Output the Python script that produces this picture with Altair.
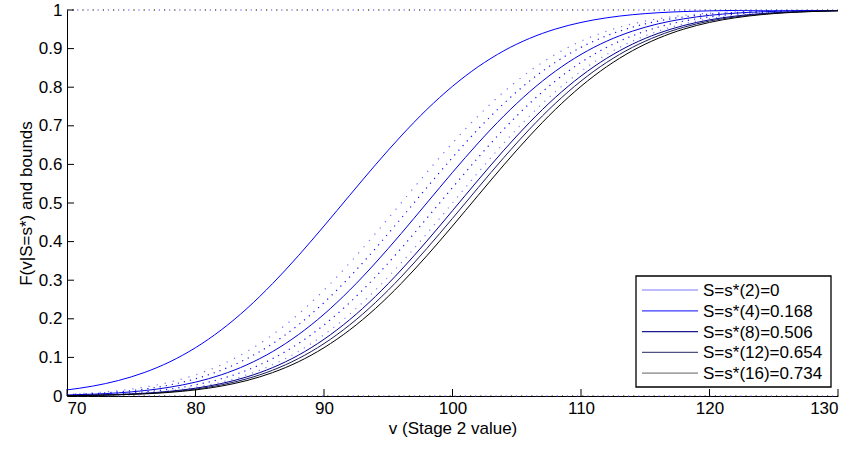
import altair as alt
import pandas as pd

# ---- data ----
v_grid = list(range(70, 131, 2))

labels = ["S=s*(2)=0", "S=s*(4)=0.168", "S=s*(8)=0.506", "S=s*(12)=0.654", "S=s*(16)=0.734"]

c1 = [0.0158, 0.0256, 0.0401, 0.0606, 0.0885, 0.1251, 0.1711, 0.2266, 0.2912, 0.3632, 0.4404,
      0.5199, 0.5987, 0.6736, 0.7422, 0.8023, 0.8531, 0.8944, 0.9265, 0.9505, 0.9678, 0.9798,
      0.9878, 0.9929, 0.9960, 0.9978, 0.9989, 0.9994, 0.9997, 0.9999, 0.9999]
c2 = [0.0026, 0.0047, 0.0082, 0.0139, 0.0228, 0.0359, 0.0548, 0.0808, 0.1151, 0.1587, 0.2119,
      0.2743, 0.3446, 0.4207, 0.5, 0.5793, 0.6554, 0.7257, 0.7881, 0.8413, 0.8849, 0.9192,
      0.9452, 0.9641, 0.9772, 0.9861, 0.9918, 0.9953, 0.9974, 0.9987, 0.9993]
c3 = [0.0011, 0.0022, 0.0040, 0.0071, 0.0122, 0.0202, 0.0322, 0.0495, 0.0735, 0.1056, 0.1469,
      0.1977, 0.2578, 0.3264, 0.4013, 0.4801, 0.5596, 0.6368, 0.7088, 0.7734, 0.8289, 0.8749,
      0.9115, 0.9394, 0.9599, 0.9744, 0.9842, 0.9906, 0.9946, 0.9970, 0.9984]
c4 = [0.0010, 0.0019, 0.0035, 0.0062, 0.0107, 0.0179, 0.0287, 0.0446, 0.0668, 0.0968, 0.1357,
      0.1841, 0.2420, 0.3085, 0.3821, 0.4602, 0.5398, 0.6179, 0.6915, 0.7580, 0.8159, 0.8643,
      0.9032, 0.9332, 0.9554, 0.9713, 0.9821, 0.9893, 0.9938, 0.9965, 0.9981]
c5 = [0.0008, 0.0016, 0.0030, 0.0054, 0.0094, 0.0158, 0.0256, 0.0401, 0.0606, 0.0885, 0.1251,
      0.1711, 0.2266, 0.2912, 0.3632, 0.4404, 0.5199, 0.5987, 0.6736, 0.7422, 0.8023, 0.8531,
      0.8944, 0.9265, 0.9505, 0.9678, 0.9798, 0.9878, 0.9929, 0.9960, 0.9978]

# dotted bounds
d_a = [0.0047, 0.0082, 0.0139, 0.0228, 0.0359, 0.0548, 0.0808, 0.1151, 0.1587, 0.2119, 0.2743,
       0.3446, 0.4207, 0.5, 0.5793, 0.6554, 0.7257, 0.7881, 0.8413, 0.8849, 0.9192, 0.9452,
       0.9641, 0.9772, 0.9861, 0.9918, 0.9953, 0.9974, 0.9987, 0.9993, 0.9997]
d_b = [0.0035, 0.0062, 0.0107, 0.0179, 0.0287, 0.0446, 0.0668, 0.0968, 0.1357, 0.1841, 0.2420,
       0.3085, 0.3821, 0.4602, 0.5398, 0.6179, 0.6915, 0.7580, 0.8159, 0.8643, 0.9032, 0.9332,
       0.9554, 0.9713, 0.9821, 0.9893, 0.9938, 0.9965, 0.9981, 0.9990, 0.9995]
d_c = [0.0019, 0.0035, 0.0062, 0.0107, 0.0179, 0.0287, 0.0446, 0.0668, 0.0968, 0.1357, 0.1841,
       0.2420, 0.3085, 0.3821, 0.4602, 0.5398, 0.6179, 0.6915, 0.7580, 0.8159, 0.8643, 0.9032,
       0.9332, 0.9554, 0.9713, 0.9821, 0.9893, 0.9938, 0.9965, 0.9981, 0.9990]
d_d = [0.0013, 0.0026, 0.0047, 0.0082, 0.0139, 0.0228, 0.0359, 0.0548, 0.0808, 0.1151, 0.1587,
       0.2119, 0.2743, 0.3446, 0.4207, 0.5, 0.5793, 0.6554, 0.7257, 0.7881, 0.8413, 0.8849,
       0.9192, 0.9452, 0.9641, 0.9772, 0.9861, 0.9918, 0.9953, 0.9974, 0.9987]

bound_v = [70, 130]
bound_hi = [1.0, 1.0]
bound_lo = [0.0, 0.0]

x_ticks = [70, 80, 90, 100, 110, 120, 130]
y_ticks = [0, 0.1, 0.2, 0.3, 0.4, 0.5, 0.6, 0.7, 0.8, 0.9, 1.0]

# ---- styles ----
FONT = "Liberation Sans"
FS = 17
W, H = 771, 386
solid_colors = ["#0000ff", "#0000d8", "#000090", "#1a1a60", "#000000"]
legend_colors = ["#7a7aff", "#3a3aff", "#1a1a90", "#505080", "#808080"]

x_scale = alt.Scale(domain=[70, 130], nice=False, zero=False)
y_scale = alt.Scale(domain=[0, 1], nice=False, zero=False)

x_axis = alt.Axis(values=x_ticks, ticks=False, grid=False, title="v (Stage 2 value)",
                  labelPadding=4, titlePadding=4, format="d", labelOverlap=False)
y_axis = alt.Axis(values=y_ticks, tickCount=11, ticks=False, grid=False,
                  title="F(v|S=s*) and bounds",
                  labelPadding=5, titlePadding=3, format=".1~f", labelOverlap=False)


def X():
    return alt.X("v:Q", scale=x_scale, axis=x_axis)


def Y():
    return alt.Y("F:Q", scale=y_scale, axis=y_axis)


layers = []

# dotted bounds
dotted_specs = [
    (d_a, "#7070ff", [1.2, 7]),
    (d_b, "#1010ff", [1.2, 5]),
    (d_c, "#1010ff", [1.2, 5]),
    (d_d, "#8080ff", [1.2, 6]),
]
for ser, col, dash in dotted_specs:
    df = pd.DataFrame({"v": v_grid, "F": ser})
    layers.append(
        alt.Chart(df).mark_line(color=col, strokeWidth=1.2, strokeDash=dash,
                                interpolate="monotone", clip=True).encode(x=X(), y=Y())
    )

for yy in (bound_hi, bound_lo):
    df = pd.DataFrame({"v": bound_v, "F": yy})
    layers.append(alt.Chart(df).mark_line(color="#4040ff", strokeWidth=1.2, strokeDash=[1.2, 9],
                                          clip=False).encode(x=X(), y=Y()))
    layers.append(alt.Chart(df).mark_line(color="#000000", strokeWidth=1.2, strokeDash=[1.2, 9],
                                          strokeDashOffset=5, clip=False).encode(x=X(), y=Y()))

# solid curves
for lab, ser, col in zip(labels, [c1, c2, c3, c4, c5], solid_colors):
    df = pd.DataFrame({"v": v_grid, "F": ser})
    layers.append(alt.Chart(df).mark_line(color=col, strokeWidth=1, interpolate="monotone",
                                          clip=True).encode(x=X(), y=Y()))

# inward ticks
layers.append(alt.Chart(pd.DataFrame({"v": x_ticks})).mark_rule(color="black", strokeWidth=1).encode(
    x=X(), y=alt.value(H), y2=alt.value(H - 7)))
layers.append(alt.Chart(pd.DataFrame({"F": y_ticks})).mark_rule(color="black", strokeWidth=1).encode(
    y=Y(), x=alt.value(0), x2=alt.value(7)))

# legend box (drawn by hand, MATLAB style)
LX0, LX1, LY0, LY1 = 569, 764, 266, 377
ROW0, ROWH = 280, 20.8
box_src = pd.DataFrame({"k": [0]})
layers.append(alt.Chart(box_src).mark_rect(fill="white", stroke="black", strokeWidth=1.3).encode(
    x=alt.value(LX0), x2=alt.value(LX1), y=alt.value(LY0), y2=alt.value(LY1)))
for i, (lab, col) in enumerate(zip(labels, legend_colors)):
    yy = ROW0 + i * ROWH
    layers.append(alt.Chart(box_src).mark_rule(color=col, strokeWidth=1.2).encode(
        x=alt.value(LX0 + 6), x2=alt.value(LX0 + 62), y=alt.value(yy)))
    layers.append(alt.Chart(box_src).mark_text(text=lab, align="left", baseline="middle",
                                               font=FONT, fontSize=FS, color="black").encode(
        x=alt.value(LX0 + 67), y=alt.value(yy + 1)))

chart = alt.layer(*layers).properties(
    width=W, height=H,
    autosize=alt.AutoSizeParams(type="none"),
    padding={"left": 67, "top": 10, "right": 19, "bottom": 53},
    background="white",
).configure_view(stroke=None).configure_axis(
    domainColor="black", domainWidth=1, labelFont=FONT, labelFontSize=FS, labelColor="black",
    titleFont=FONT, titleFontSize=FS, titleColor="black", titleFontWeight="normal",
)

chart.save("out.html", embed_options={"renderer": "svg", "actions": False})
